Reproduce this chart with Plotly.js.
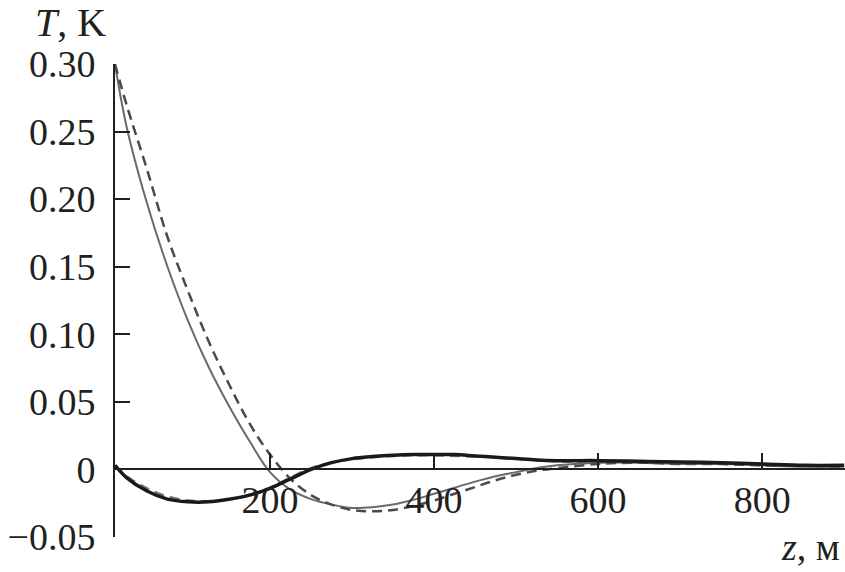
<!DOCTYPE html>
<html>
<head>
<meta charset="utf-8">
<script src="https://cdn.plot.ly/plotly-3.0.1.min.js"></script>
<style>html,body{margin:0;padding:0;background:#fff;}#chart{width:845px;height:572px;}</style>
</head>
<body>
<div id="chart"></div>
<script>
// z, m
const zValues = [11, 25, 50, 75, 100, 125, 150, 175, 200, 225, 250, 275, 300, 325, 350, 375, 400, 425, 450, 475, 500, 525, 550, 600, 650, 700, 750, 800, 850, 900];
// thin solid grey curve
const tSolidThin = [0.300, 0.254, 0.197, 0.150, 0.110, 0.076, 0.047, 0.021, -0.002, -0.015, -0.022, -0.026, -0.0285, -0.028, -0.026, -0.0225, -0.018, -0.0135, -0.009, -0.005, -0.002, 0.001, 0.003, 0.005, 0.005, 0.004, 0.004, 0.003, 0.002, 0.002];
// dashed grey curve
const tDashedThin = [0.300, 0.270, 0.222, 0.172, 0.132, 0.095, 0.063, 0.034, 0.011, -0.007, -0.019, -0.026, -0.030, -0.031, -0.030, -0.027, -0.023, -0.018, -0.013, -0.008, -0.004, -0.001, 0.001, 0.004, 0.005, 0.004, 0.004, 0.003, 0.003, 0.002];
// thick black curve
const tSolidThick = [0.003, -0.006, -0.016, -0.022, -0.024, -0.024, -0.022, -0.019, -0.014, -0.007, 0.000, 0.005, 0.008, 0.0095, 0.0105, 0.011, 0.011, 0.011, 0.010, 0.009, 0.008, 0.007, 0.0065, 0.0065, 0.006, 0.0055, 0.005, 0.004, 0.003, 0.003];
// dashed dark curve (overlapping the thick one)
const tDashedThick = [0.003, -0.005, -0.014, -0.020, -0.023, -0.0235, -0.022, -0.019, -0.0135, -0.006, 0.001, 0.005, 0.0075, 0.009, 0.010, 0.0105, 0.0105, 0.010, 0.0095, 0.009, 0.008, 0.007, 0.006, 0.006, 0.006, 0.005, 0.005, 0.004, 0.003, 0.003];

const yTickVals = [-0.05, 0, 0.05, 0.10, 0.15, 0.20, 0.25, 0.30];
const yTickText = ['\u22120.05', '0', '0.05', '0.10', '0.15', '0.20', '0.25', '0.30'];
const xTickVals = [200, 400, 600, 800];
const xTickText = ['200', '400', '600', '800'];

const fontFam = 'Liberation Serif, Times New Roman, serif';
const ink = '#231f20';

const traces = [
  {x: zValues, y: tSolidThin, mode: 'lines', line: {color: '#6a6a6a', width: 2, shape: 'spline', smoothing: 1}},
  {x: zValues, y: tDashedThin, mode: 'lines', line: {color: '#4a4a4a', width: 2.5, dash: '10px,6px', shape: 'spline', smoothing: 1}},
  {x: zValues, y: tDashedThick, mode: 'lines', line: {color: '#777', width: 2.5, dash: '10px,6px', shape: 'spline', smoothing: 1}},
  {x: zValues, y: tSolidThick, mode: 'lines', line: {color: '#1a1a1a', width: 3.5, shape: 'spline', smoothing: 1}}
];

const layout = {
  width: 845, height: 572,
  margin: {l: 115, r: 0, t: 64, b: 35},
  paper_bgcolor: '#fff', plot_bgcolor: '#fff',
  showlegend: false,
  font: {family: fontFam, color: ink, size: 38},
  xaxis: {
    range: [11, 901], anchor: 'free', position: 1/7,
    showline: true, linecolor: ink, linewidth: 2,
    ticks: 'inside', ticklen: 15, tickwidth: 2, tickcolor: ink,
    tickvals: xTickVals, ticktext: xTickText,
    tickfont: {family: fontFam, size: 38, color: ink},
    ticklabelstandoff: -3,
    showgrid: false, zeroline: false
  },
  yaxis: {
    range: [-0.05, 0.30],
    showline: true, linecolor: ink, linewidth: 2,
    ticks: 'inside', ticklen: 15, tickwidth: 2, tickcolor: ink,
    tickvals: yTickVals, ticktext: yTickText,
    tickfont: {family: fontFam, size: 38, color: ink},
    ticklabelstandoff: 10,
    showgrid: false, zeroline: false
  },
  annotations: [
    {xref: 'paper', yref: 'paper', x: (33 - 115) / 730, y: (537 - 22) / 473, xanchor: 'left', yanchor: 'middle',
     text: '<i>T</i>, K', showarrow: false, font: {family: fontFam, size: 40, color: ink}},
    {xref: 'paper', yref: 'paper', x: (842 - 115) / 730, y: (537 - 547) / 473, xanchor: 'right', yanchor: 'middle',
     text: '<i>z</i>, м', showarrow: false, font: {family: fontFam, size: 38, color: ink}}
  ]
};

Plotly.newPlot('chart', traces, layout, {displayModeBar: false, staticPlot: true});
</script>
</body>
</html>
